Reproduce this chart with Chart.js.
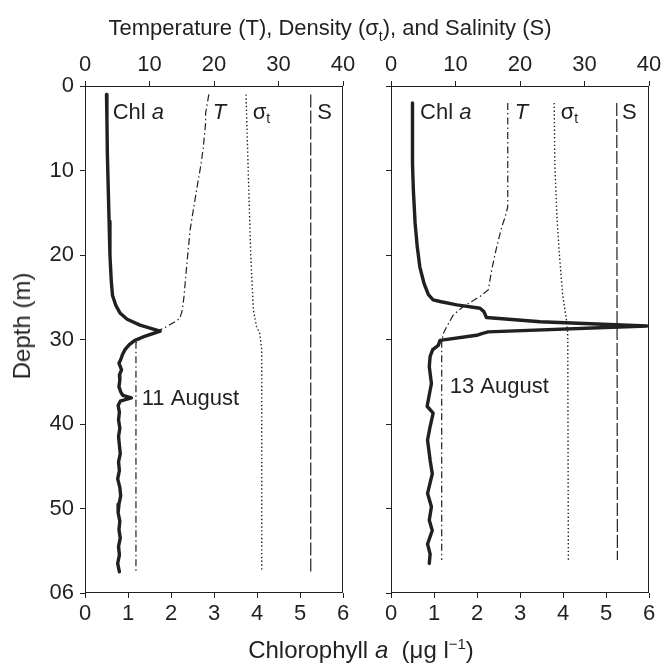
<!DOCTYPE html>
<html>
<head>
<meta charset="utf-8">
<script src="https://cdn.jsdelivr.net/npm/chart.js@4"></script>
<style>
  body { margin: 0; background: #fff; }
  #wrap { position: relative; width: 665px; height: 669px; overflow: hidden;
          font-family: "Liberation Sans", Arial, sans-serif; color: #231f20; }
  canvas { position: absolute; top: 0; }
  .ttl { position: absolute; white-space: nowrap; font-size: 22px; line-height: 1;
         transform: translate(-50%, -50%); }
  .big { font-size: 24px; }
  .sub { font-size: 14px; position: relative; top: 6px; }
  .sup { font-size: 15px; position: relative; top: -9px; }
</style>
</head>
<body>
<div id="wrap">
  <canvas id="c11" width="370" height="669" style="left:0"></canvas>
  <canvas id="c13" width="365" height="669" style="left:300px"></canvas>
  <div class="ttl" style="left:330px; top:28px">Temperature (T), Density (σ<span class="sub">t</span>), and Salinity (S)</div>
  <div class="ttl big" style="left:22px; top:326px; transform: translate(-50%, -50%) rotate(-90deg)">Depth (m)</div>
  <div class="ttl big" style="left:361px; top:650px">Chlorophyll <i>a</i>&nbsp; (μg l<span class="sup">−1</span>)</div>
</div>
<script>
// axis ticks
const depthTicks = [0, 10, 20, 30, 40, 50, 60];
const depthTickLabels = ["0", "10", "20", "30", "40", "50", "06"];
const tempTicks = [0, 10, 20, 30, 40];
const chlTicks = [0, 1, 2, 3, 4, 5, 6];

// 11 August profiles (depth in m)
const chlDepth11 = [1, 4, 8, 12, 16, 20, 23, 24.8, 26, 26.9, 27.6, 28.3, 28.7, 29.0, 29.3, 29.7, 30.1, 30.6, 31.2, 31.8, 32.4, 32.8, 33.6, 34.2, 34.8, 35.6, 36.3, 36.6, 36.9, 37.3, 37.8, 38.6, 39.5, 40.5, 41.5, 42.5, 43.5, 44.5, 45.5, 46.5, 47.5, 48.5, 49.5, 50.5, 51.5, 52.5, 53.5, 54.5, 55.5, 56.5, 57.5];
const chl11 = [0.50, 0.51, 0.52, 0.54, 0.56, 0.58, 0.61, 0.64, 0.72, 0.82, 0.98, 1.28, 1.55, 1.75, 1.58, 1.35, 1.16, 1.03, 0.93, 0.87, 0.83, 0.79, 0.85, 0.80, 0.81, 0.79, 0.84, 0.88, 1.08, 0.82, 0.77, 0.80, 0.78, 0.81, 0.78, 0.80, 0.82, 0.78, 0.80, 0.76, 0.81, 0.83, 0.79, 0.77, 0.81, 0.79, 0.82, 0.78, 0.80, 0.76, 0.80];
const tDepth11 = [1, 3.2, 4.4, 7.2, 9.2, 12.3, 17.0, 21.0, 24.9, 26.5, 27.5, 27.9, 28.7, 29.3, 29.9, 30.4, 40, 50, 57.5];
const temp11 = [19.2, 18.7, 18.7, 18.35, 18.0, 17.3, 16.3, 15.8, 15.35, 15.1, 14.7, 13.95, 12.1, 10.0, 8.6, 7.9, 7.9, 7.9, 7.9];
const sigDepth11 = [1, 7.2, 15.1, 20, 26.5, 28.5, 29.3, 31.2, 57.3];
const sigma11 = [24.96, 25.2, 25.5, 25.7, 26.1, 26.6, 27.1, 27.4, 27.4];
const salDepth11 = [1, 57.5];
const sal11 = [35.0, 35.0];

// 13 August profiles
const chlDepth13 = [2, 9.2, 12.3, 16.2, 19.0, 21.4, 23.4, 24.7, 25.3, 25.5, 25.9, 26.3, 26.7, 27.4, 27.9, 28.4, 29.1, 29.3, 29.5, 30.1, 30.7, 31.2, 32.0, 33.2, 35.2, 37.9, 38.7, 40.3, 41.9, 44.3, 45.9, 48.2, 49.8, 51.4, 52.6, 54.2, 55.4, 56.5];
const chl13 = [0.50, 0.50, 0.52, 0.56, 0.61, 0.67, 0.77, 0.87, 0.98, 1.14, 1.53, 2.07, 2.16, 2.22, 3.47, 5.95, 2.26, 2.11, 1.99, 1.14, 1.10, 0.97, 0.91, 0.89, 0.94, 0.84, 0.98, 0.91, 0.85, 0.91, 0.96, 0.85, 0.94, 0.89, 0.96, 0.85, 0.91, 0.89];
const tDepth13 = [2, 14.3, 15.5, 16.6, 19.0, 21.8, 24.1, 24.9, 26.1, 27.1, 28.5, 29.3, 30.4, 56.1];
const temp13 = [18.1, 18.1, 17.7, 17.2, 16.4, 15.6, 15.1, 13.8, 11.2, 9.66, 8.63, 8.1, 7.86, 7.86];
const sigDepth13 = [2, 9.2, 15.1, 19.9, 24.6, 27.7, 29.3, 56.1];
const sigma13 = [25.3, 25.4, 25.7, 26.1, 26.6, 27.2, 27.4, 27.5];
const salDepth13 = [2, 56.1];
const sal13 = [35.0, 35.1];

const INK = "#231f20";
const FONT = '"Liberation Sans", Arial, sans-serif';
Chart.defaults.font.family = FONT;
Chart.defaults.font.size = 22;
Chart.defaults.color = INK;

function pts(depths, vals) {
  return depths.map((d, i) => ({ x: vals[i], y: d }));
}

function profile(depths, vals, axis, style) {
  return Object.assign({
    data: pts(depths, vals),
    xAxisID: axis,
    yAxisID: "y",
    borderColor: INK,
    pointRadius: 0,
    pointHoverRadius: 0,
    showLine: true,
    fill: false,
    tension: 0
  }, style);
}

const chlStyle = { borderWidth: 3.4, borderJoinStyle: "round", borderCapStyle: "round" };
const tStyle = { borderWidth: 1.2, borderDash: [7, 3, 1.5, 3] };
const sigStyle = { borderWidth: 1.4, borderDash: [1.4, 2.4] };
const salStyle = { borderWidth: 1.2, borderDash: [13, 3] };

// box round the plot area
const framePlugin = {
  id: "frame",
  afterDraw(chart) {
    const { ctx, chartArea: a } = chart;
    ctx.save();
    ctx.strokeStyle = INK;
    ctx.lineWidth = 1;
    ctx.strokeRect(Math.round(a.left) + 0.5, Math.round(a.top) + 0.5,
      Math.round(a.right - a.left) - 1, Math.round(a.bottom - a.top) - 1);
    ctx.restore();
  }
};

// curve labels placed in data coordinates (temperature axis, depth)
const textPlugin = {
  id: "panelText",
  afterDatasetsDraw(chart, args, opts) {
    const ctx = chart.ctx;
    const xs = chart.scales.xT, ys = chart.scales.y;
    ctx.save();
    ctx.fillStyle = INK;
    ctx.textBaseline = "middle";
    opts.items.forEach(it => {
      let x = xs.getPixelForValue(it.t);
      const y = ys.getPixelForValue(it.d);
      it.parts.forEach(p => {
        const size = p.sub ? 14 : 22;
        ctx.font = (p.italic ? "italic " : "") + size + "px " + FONT;
        ctx.fillText(p.s, x, y + (p.sub ? 6 : 0));
        x += ctx.measureText(p.s).width;
      });
    });
    ctx.restore();
  }
};

function curveLabels(tChl, tT, tSig, tS, d) {
  return [
    { t: tChl, d, parts: [{ s: "Chl " }, { s: "a", italic: true }] },
    { t: tT, d, parts: [{ s: "T", italic: true }] },
    { t: tSig, d, parts: [{ s: "σ" }, { s: "t", sub: true }] },
    { t: tS, d, parts: [{ s: "S" }] }
  ];
}

function makePanel(canvas, sets, cfg) {
  const tickGrid = { drawOnChartArea: false, tickLength: 5, color: INK, lineWidth: 1 };
  return new Chart(canvas, {
    type: "scatter",
    data: {
      datasets: [
        profile(sets.chlDepth, sets.chl, "xC", chlStyle),
        profile(sets.tDepth, sets.temp, "xT", tStyle),
        profile(sets.sigDepth, sets.sigma, "xT", sigStyle),
        profile(sets.salDepth, sets.sal, "xT", salStyle)
      ]
    },
    options: {
      responsive: false,
      animation: false,
      layout: { padding: { left: 0, right: cfg.padRight, top: 0, bottom: 0 } },
      plugins: {
        legend: { display: false },
        tooltip: { enabled: false },
        panelText: { items: cfg.labels }
      },
      scales: {
        xT: {
          type: "linear", axis: "x", position: "top", min: 0, max: 40,
          afterBuildTicks: s => { s.ticks = tempTicks.map(v => ({ value: v })); },
          ticks: { padding: 3, callback: v => String(v) },
          grid: tickGrid, border: { display: false },
          afterFit: s => { s.height = 86; }
        },
        xC: {
          type: "linear", axis: "x", position: "bottom", min: 0, max: 6,
          afterBuildTicks: s => { s.ticks = chlTicks.map(v => ({ value: v })); },
          ticks: { padding: 3, callback: v => String(v) },
          grid: tickGrid, border: { display: false },
          afterFit: s => { s.height = 76; }
        },
        y: {
          type: "linear", position: "left", reverse: true, min: 0, max: 60,
          afterBuildTicks: s => { s.ticks = depthTicks.map(v => ({ value: v })); },
          ticks: {
            display: cfg.showY, padding: 6,
            callback: v => depthTickLabels[depthTicks.indexOf(v)]
          },
          grid: tickGrid, border: { display: false },
          afterFit: s => { s.width = cfg.yWidth; }
        }
      }
    },
    plugins: [framePlugin, textPlugin]
  });
}

makePanel(document.getElementById("c11"), {
  chlDepth: chlDepth11, chl: chl11,
  tDepth: tDepth11, temp: temp11,
  sigDepth: sigDepth11, sigma: sigma11,
  salDepth: salDepth11, sal: sal11
}, {
  yWidth: 85, padRight: 27, showY: true,
  labels: curveLabels(4.3, 19.8, 26.0, 36.0, 3.2).concat([
    { t: 8.8, d: 37.0, parts: [{ s: "11 August" }] }
  ])
});

makePanel(document.getElementById("c13"), {
  chlDepth: chlDepth13, chl: chl13,
  tDepth: tDepth13, temp: temp13,
  sigDepth: sigDepth13, sigma: sigma13,
  salDepth: salDepth13, sal: sal13
}, {
  yWidth: 91, padRight: 16, showY: false,
  labels: curveLabels(4.5, 19.2, 26.3, 35.8, 3.2).concat([
    { t: 9.1, d: 35.6, parts: [{ s: "13 August" }] }
  ])
});
</script>
</body>
</html>
